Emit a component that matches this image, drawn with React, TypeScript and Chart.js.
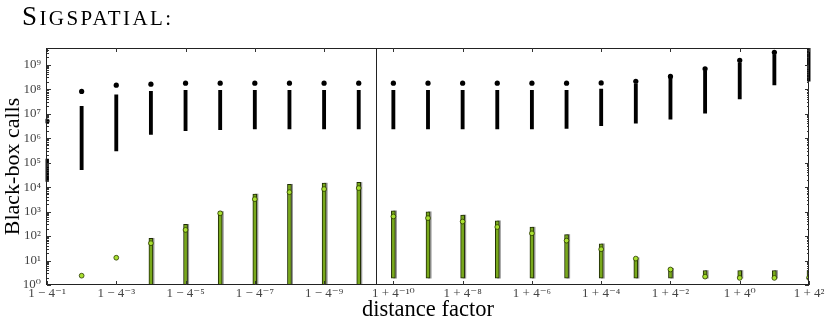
import React, { useEffect, useRef } from "react";
import { Chart, registerables } from "chart.js";

Chart.register(...registerables);

// x categories (distance factor), index 0..22
const categories = [
  "1 − 4⁻¹", "1 − 4⁻²", "1 − 4⁻³", "1 − 4⁻⁴", "1 − 4⁻⁵", "1 − 4⁻⁶", "1 − 4⁻⁷", "1 − 4⁻⁸", "1 − 4⁻⁹", "1 − 4⁻¹⁰",
  "1 + 4⁻¹⁰", "1 + 4⁻⁹", "1 + 4⁻⁸", "1 + 4⁻⁷", "1 + 4⁻⁶", "1 + 4⁻⁵", "1 + 4⁻⁴", "1 + 4⁻³", "1 + 4⁻²", "1 + 4⁻¹",
  "1 + 4⁰", "1 + 4¹", "1 + 4²",
];
const xTickValues = [0, 2, 4, 6, 8, 10, 12, 14, 16, 18, 20, 22];
const dividerAt = 9.5;

const yTickValues = [1, 10, 100, 1e3, 1e4, 1e5, 1e6, 1e7, 1e8, 1e9];
const yTickLabels = ["10⁰", "10¹", "10²", "10³", "10⁴", "10⁵", "10⁶", "10⁷", "10⁸", "10⁹"];
const yMin = 1;
const yMax = 4.8e9;

// black series: dot (max) and range bar
const blackDots = [
  5.0e6, 8.1e7, 1.45e8, 1.6e8, 1.75e8, 1.75e8, 1.75e8, 1.75e8, 1.75e8, 1.75e8,
  1.75e8, 1.75e8, 1.75e8, 1.75e8, 1.75e8, 1.75e8, 1.8e8, 2.1e8, 3.3e8, 6.8e8,
  1.5e9, 3.2e9, null,
];
const blackLow = [
  1.7e4, 5.1e4, 3.0e5, 1.4e6, 2.0e6, 2.2e6, 2.4e6, 2.4e6, 2.4e6, 2.4e6,
  2.4e6, 2.4e6, 2.4e6, 2.4e6, 2.4e6, 2.5e6, 3.2e6, 4.1e6, 6.0e6, 1.05e7,
  4.0e7, 1.5e8, 2.1e8,
];
const blackHigh = [
  1.4e5, 2.0e7, 5.9e7, 8.1e7, 8.9e7, 8.9e7, 8.9e7, 8.9e7, 8.9e7, 8.9e7,
  8.9e7, 8.9e7, 8.9e7, 8.9e7, 8.9e7, 8.9e7, 1.0e8, 1.66e8, 2.9e8, 5.4e8,
  1.2e9, 2.6e9, 4.9e9,
];

// green series: dot and range bar
const greenDots = [
  null, 2.4, 13, 51, 178, 850, 3200, 6200, 8300, 9100,
  630, 540, 390, 234, 129, 65, 29, 12, 4.3, 2.2,
  1.95, 1.95, 1.95,
];
const greenLow = [
  null, null, null, 1, 1, 1, 1, 1, 1, 1,
  1.9, 1.9, 1.9, 1.9, 1.9, 1.9, 1.9, 1.9, 1.9, 1.9,
  1.9, 1.9, 1.9,
];
const greenHigh = [
  null, null, null, 81, 300, 1000, 5200, 13000, 14500, 15500,
  1070, 980, 720, 420, 230, 115, 48, 13, 4.8, 3.9,
  3.9, 3.9, 3.9,
];

const FONT = "'Liberation Serif', 'DejaVu Serif', serif";
const EDGE_CLIP = { left: 1.5, right: 1.5, top: 0, bottom: 0 };

const framePlugin = {
  id: "frame",
  afterDatasetsDraw(chart: any) {
    const { ctx, chartArea: a, scales } = chart;
    const xs = scales.x;
    const ys = scales.y;
    const line = (x1: number, y1: number, x2: number, y2: number) => {
      ctx.beginPath();
      ctx.moveTo(x1, y1);
      ctx.lineTo(x2, y2);
      ctx.stroke();
    };
    ctx.save();
    ctx.strokeStyle = "#222";
    ctx.lineWidth = 1;
    ctx.strokeRect(a.left - 0.5, a.top + 0.5, a.right - a.left, a.bottom - a.top - 1);
    const dx = Math.round(xs.getPixelForValue(dividerAt)) + 0.5;
    line(dx, a.top, dx, a.bottom);
    ctx.strokeStyle = "#333";
    for (const v of xTickValues) {
      const px = Math.round(xs.getPixelForValue(v)) + 0.5;
      line(px, a.bottom, px, a.bottom - 4);
      line(px, a.top, px, a.top + 4);
    }
    for (const dec of yTickValues) {
      for (let m = 1; m <= 9; m++) {
        const v = dec * m;
        if (v > yMax) continue;
        const py = Math.round(ys.getPixelForValue(v)) + 0.5;
        const len = m === 1 ? 4 : 2;
        line(a.left, py, a.left + len, py);
        line(a.right, py, a.right - len, py);
      }
    }
    ctx.restore();
  },
};

export default function App() {
  const ref = useRef<HTMLCanvasElement>(null);

  useEffect(() => {
    if (!ref.current) return;
    const idx = categories.map((_, i) => i);
    const chart = new Chart(ref.current, {
      type: "bar",
      data: {
        datasets: [
          {
            type: "scatter",
            data: idx.map((i) => ({ x: i, y: blackDots[i] })),
            pointRadius: 2.6,
            pointBackgroundColor: "#000",
            pointBorderWidth: 0,
            showLine: false,
            order: 0,
            clip: EDGE_CLIP,
          } as any,
          {
            type: "scatter",
            data: idx.map((i) => ({ x: i, y: greenDots[i] })),
            pointRadius: 2.4,
            pointBackgroundColor: "#a8e030",
            pointBorderColor: "#2b3a00",
            pointBorderWidth: 0.8,
            showLine: false,
            order: 1,
            clip: 0,
          } as any,
          {
            type: "bar",
            data: idx.map((i) => ({ x: i, y: [blackLow[i], blackHigh[i]] })),
            backgroundColor: "#000",
            barThickness: 3.2,
            grouped: false,
            order: 2,
            clip: EDGE_CLIP,
          } as any,
          {
            type: "bar",
            data: idx
              .filter((i) => greenHigh[i] != null)
              .map((i) => ({ x: i, y: [greenLow[i], greenHigh[i]] })),
            backgroundColor: "#78a81c",
            borderColor: "#1f2c04",
            borderWidth: 1,
            borderSkipped: false,
            barThickness: 4,
            grouped: false,
            order: 3,
            clip: 0,
          } as any,
          {
            type: "bar",
            data: idx
              .filter((i) => greenHigh[i] != null)
              .map((i) => ({ x: i + 0.05, y: [greenLow[i], greenHigh[i]] })),
            backgroundColor: "rgba(110,110,110,0.7)",
            barThickness: 3,
            grouped: false,
            order: 4,
            clip: 0,
          } as any,
        ],
      },
      options: {
        animation: false,
        responsive: false,
        devicePixelRatio: 1,
        layout: { padding: { top: 48, right: 21, left: 0, bottom: 0 } },
        plugins: { legend: { display: false }, tooltip: { enabled: false }, title: { display: false } },
        scales: {
          x: {
            type: "linear",
            min: 0,
            max: 22,
            offset: false,
            grid: { display: false, drawTicks: false },
            border: { display: false },
            afterBuildTicks: (s: any) => {
              s.ticks = xTickValues.map((v) => ({ value: v }));
            },
            afterFit: (s: any) => {
              s.height = 43;
            },
            ticks: {
              autoSkip: false,
              maxRotation: 0,
              minRotation: 0,
              padding: 1,
              color: "#444",
              font: { family: FONT, size: 13 },
              callback: (v: any) => categories[Math.round(Number(v))] ?? "",
            },
            title: {
              display: true,
              text: "distance factor",
              color: "#000",
              font: { family: FONT, size: 22.5 },
              padding: { top: 0, bottom: 4 },
            },
          },
          y: {
            type: "logarithmic",
            min: yMin,
            max: yMax,
            grid: { display: false, drawTicks: false },
            border: { display: false },
            afterBuildTicks: (s: any) => {
              s.ticks = yTickValues.map((v) => ({ value: v }));
            },
            afterFit: (s: any) => {
              s.width = 47;
            },
            ticks: {
              padding: 6,
              color: "#444",
              font: { family: FONT, size: 13 },
              callback: (v: any) => yTickLabels[yTickValues.indexOf(Number(v))] ?? "",
            },
            title: {
              display: true,
              text: "Black-box calls",
              color: "#000",
              font: { family: FONT, size: 22 },
              padding: { top: 0, bottom: 0 },
            },
          },
        },
      } as any,
      plugins: [framePlugin],
    });
    return () => chart.destroy();
  }, []);

  return (
    <div style={{ position: "fixed", left: 0, top: 0, width: 830, height: 328, background: "#fff" }}>
      <canvas ref={ref} width={830} height={328} style={{ position: "absolute", left: 0, top: 0 }} />
      <div
        style={{
          position: "absolute",
          left: 22,
          top: 0,
          fontFamily: FONT,
          lineHeight: "33px",
          color: "#000",
          letterSpacing: 2.4,
          whiteSpace: "nowrap",
        }}
      >
        <span style={{ fontSize: 27 }}>S</span>
        <span style={{ fontSize: 21 }}>IGSPATIAL:</span>
      </div>
    </div>
  );
}
